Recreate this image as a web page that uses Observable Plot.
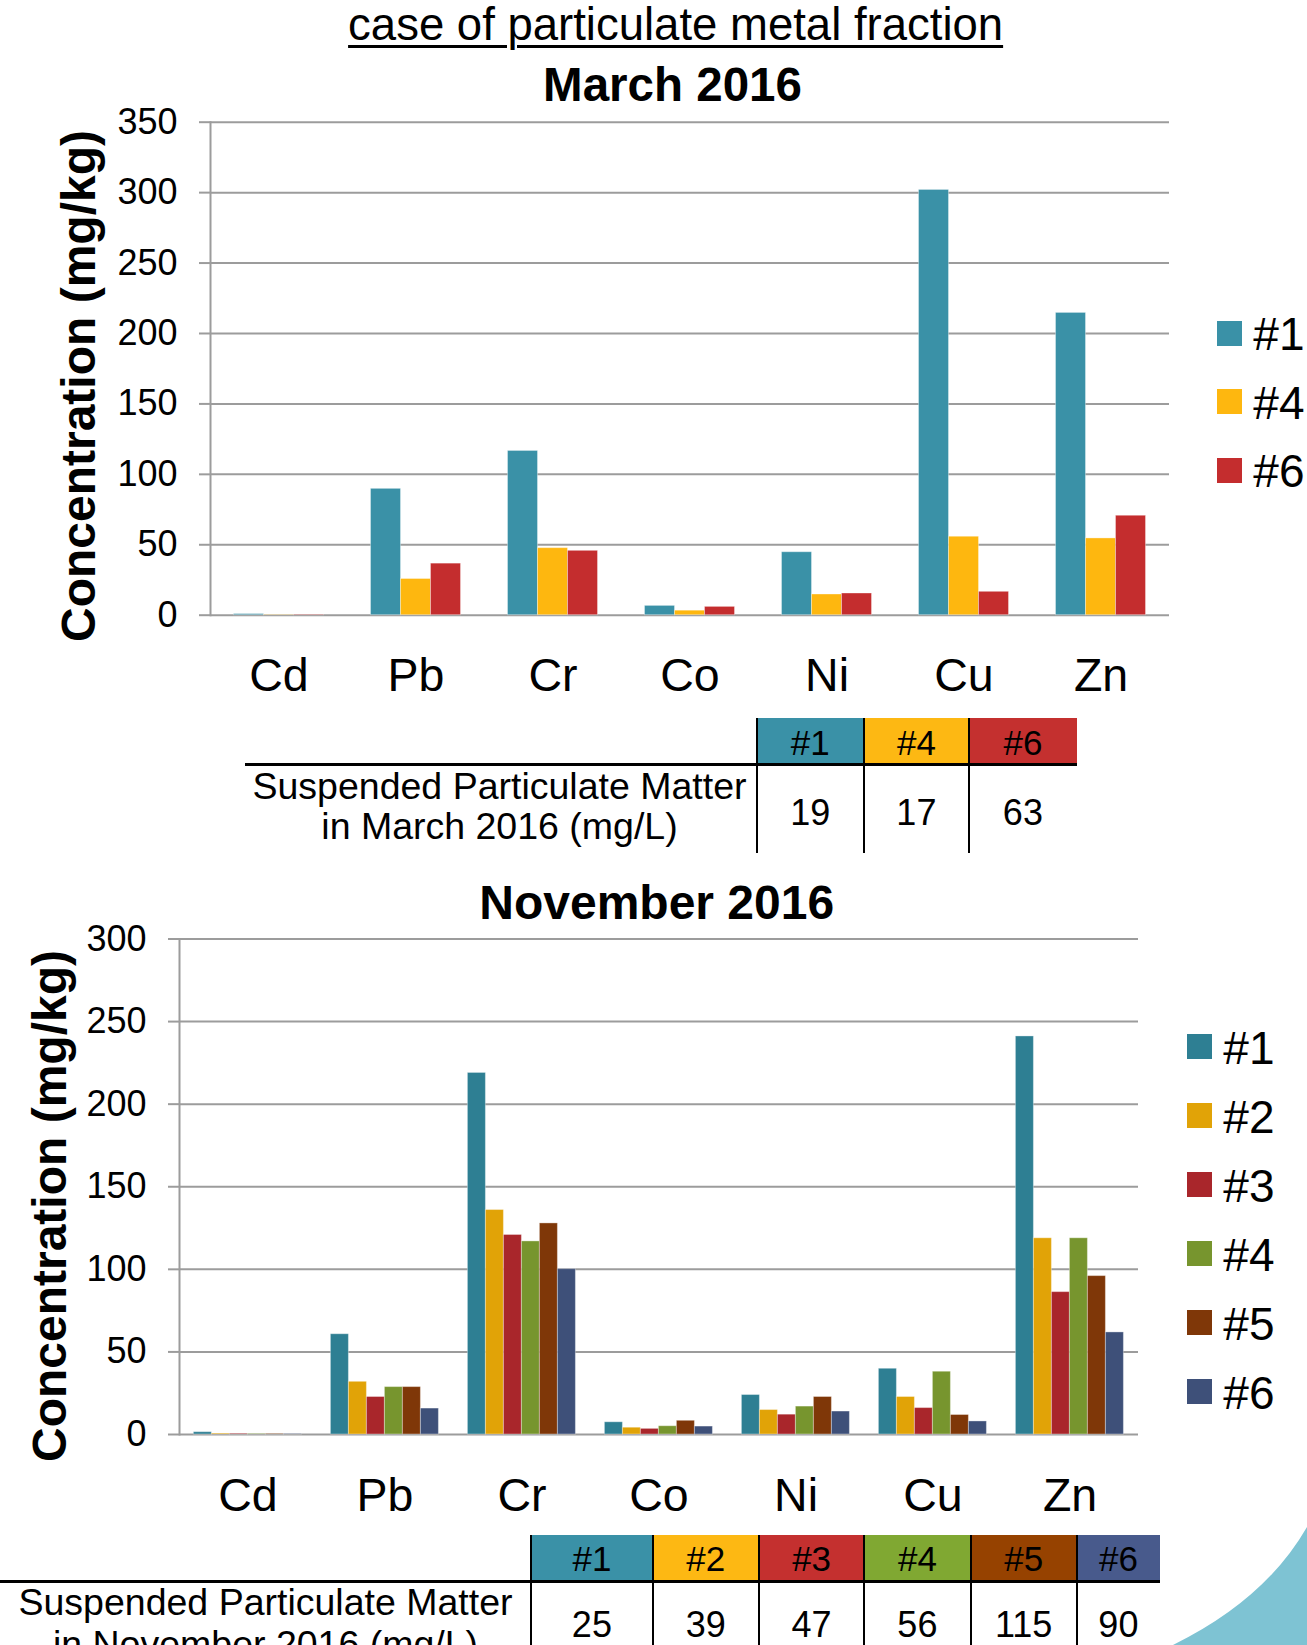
<!DOCTYPE html>
<html>
<head>
<meta charset="utf-8">
<script src="https://cdn.jsdelivr.net/npm/d3@7"></script>
<script src="https://cdn.jsdelivr.net/npm/@observablehq/plot@0.6"></script>
<style>
  body { margin: 0; background: #fff; }
  #page { position: relative; width: 1307px; height: 1645px; overflow: hidden;
          font-family: "Liberation Sans", Arial, sans-serif; color: #000; background: #fff; }
  .abs { position: absolute; white-space: nowrap; }
  #page svg { position: absolute; left: 0; overflow: visible; }
</style>
</head>
<body>
<div id="page"></div>
<script>
// ---- data -------------------------------------------------------------
const metals = ["Cd", "Pb", "Cr", "Co", "Ni", "Cu", "Zn"];

// March 2016: particulate metal concentration (mg/kg) per sampling site
const marchSites = ["#1", "#4", "#6"];
const marchSite1 = [0.8, 89.7, 116.6, 6.6, 44.7, 301.9, 214.6];
const marchSite4 = [0.2, 25.7, 47.6, 3.2, 14.7, 55.7, 54.5];
const marchSite6 = [0.3, 36.6, 45.7, 5.9, 15.4, 16.6, 70.6];
const marchTicks = [0, 50, 100, 150, 200, 250, 300, 350];
const marchSpm = [19, 17, 63];

// November 2016
const novSites = ["#1", "#2", "#3", "#4", "#5", "#6"];
const novSite1 = [1.4, 60.7, 218.9, 7.4, 23.9, 39.8, 241.0];
const novSite2 = [0.5, 31.9, 135.9, 4.1, 14.8, 22.7, 118.8];
const novSite3 = [0.4, 22.7, 120.8, 3.4, 12.0, 16.0, 86.2];
const novSite4 = [0.3, 28.7, 116.9, 5.0, 16.9, 38.0, 118.8];
const novSite5 = [0.3, 28.7, 127.8, 8.3, 22.7, 11.8, 95.9];
const novSite6 = [0.2, 15.7, 100.1, 4.8, 13.9, 7.9, 61.8];
const novTicks = [0, 50, 100, 150, 200, 250, 300];
const novSpm = [25, 39, 47, 56, 115, 90];

// ---- colours ----------------------------------------------------------
const marchBarColors = ["#3A91A7", "#FEB70F", "#C42D2E"];
const novBarColors = ["#2E7F93", "#E1A307", "#A9262B", "#77952E", "#7F3708", "#3E5079"];
const marchHeadColors = ["#3A91A7", "#FDB813", "#C4302F"];
const novHeadColors = ["#3A91A7", "#FDB813", "#C4302F", "#80A832", "#964200", "#485A8C"];
const gridColor = "#9c9c9c";
const FONT = '"Liberation Sans", Arial, sans-serif';

const page = document.getElementById("page");

// absolutely placed text, positioned by its baseline
function text(str, {x, baseline, size, weight = "normal", anchor = "middle", style = {}}) {
  const d = document.createElement("div");
  d.className = "abs";
  d.textContent = str;
  Object.assign(d.style, {
    left: x + "px", top: (baseline - 0.8465 * size) + "px",
    fontSize: size + "px", lineHeight: size + "px", fontWeight: weight,
    transform: anchor === "middle" ? "translateX(-50%)" : anchor === "end" ? "translateX(-100%)" : "none"
  }, style);
  page.appendChild(d);
  return d;
}

function box(left, top, width, height, bg) {
  const d = document.createElement("div");
  d.className = "abs";
  Object.assign(d.style, {left: left + "px", top: top + "px", width: width + "px", height: height + "px", background: bg});
  page.appendChild(d);
  return d;
}

function rotatedTitle(str, cx, cy, size) {
  const d = document.createElement("div");
  d.className = "abs";
  d.textContent = str;
  Object.assign(d.style, {
    left: cx + "px", top: cy + "px", fontSize: size + "px", lineHeight: size + "px",
    fontWeight: "bold", transform: "translate(-50%, -50%) rotate(-90deg)"
  });
  page.appendChild(d);
}

// grouped bar chart: one facet per metal, one bar per site
function groupedChart({sites, series, ticks, colors, top, height, marginLeft, marginRight, marginTop, marginBottom, padOuter}) {
  const rows = sites.flatMap((s, i) => metals.map((m, j) => ({metal: m, site: s, value: series[i][j]})));
  const chart = Plot.plot({
    width: 1307, height, marginLeft, marginRight, marginTop, marginBottom,
    style: {fontFamily: FONT, color: "#000", background: "transparent", overflow: "visible"},
    fx: {domain: metals, padding: 0, label: null},
    x: {domain: sites, axis: null, paddingInner: 0, paddingOuter: padOuter},
    y: {domain: [ticks[0], ticks[ticks.length - 1]], label: null},
    color: {domain: sites, range: colors},
    marks: [
      Plot.gridY(ticks, {stroke: gridColor, strokeOpacity: 1, strokeWidth: 2}),
      Plot.frame({anchor: "left", facetAnchor: "left", stroke: gridColor, strokeWidth: 2}),
      Plot.barY(rows, {fx: "metal", x: "site", y: "value", fill: "site",
                       stroke: "#ffffff", strokeOpacity: 0.35, strokeWidth: 1}),
      Plot.axisY(ticks, {tickSize: 11, tickPadding: 22, fontSize: 36, stroke: gridColor,
                         strokeWidth: 2, fill: "#000", label: null}),
      Plot.axisFx({anchor: "bottom", tickSize: 0, tickPadding: 43, fontSize: 46.5, fill: "#000", label: null})
    ]
  });
  chart.style.top = top + "px";
  page.appendChild(chart);
  return chart;
}

function legend(chart, {left, firstCenter, step}) {
  const {domain, range} = chart.scale("color");
  domain.forEach((name, i) => {
    const cy = firstCenter + i * step;
    box(left, cy - 12.5, 25, 25, range[i]);
    text(name, {x: left + 36, baseline: cy + 16.8, size: 46, anchor: "start"});
  });
}

function spmTable({sites, values, colors, lineLeft, cols, headTop, headBottom, bodyBottom,
                   labelLines, labelX, labelBaselines, headBaseline, valueBaseline}) {
  sites.forEach((s, i) => {
    const l = cols[i], w = cols[i + 1] - cols[i];
    box(l, headTop, w, headBottom - headTop, colors[i]);
    text(s, {x: l + w / 2, baseline: headBaseline, size: 35});
    text(String(values[i]), {x: l + w / 2, baseline: valueBaseline, size: 36});
  });
  box(lineLeft, headBottom - 1.5, cols[cols.length - 1] - lineLeft, 3, "#000");
  sites.forEach((s, i) => box(cols[i] - 1, headTop, 2, bodyBottom - headTop, "#000"));
  labelLines.forEach((ln, k) => text(ln, {x: labelX, baseline: labelBaselines[k], size: 37.5}));
}

// ---- headings -----------------------------------------------------------
text("case of particulate metal fraction", {x: 675.6, baseline: 41, size: 45.5,
  style: {textDecoration: "underline", textDecorationThickness: "3px", textUnderlineOffset: "5px"}});
text("March 2016", {x: 672.5, baseline: 101.7, size: 47.5, weight: "bold"});
text("November 2016", {x: 656.7, baseline: 919.3, size: 48, weight: "bold"});

// ---- March chart ----------------------------------------------------------
const march = groupedChart({
  sites: marchSites, series: [marchSite1, marchSite4, marchSite6], ticks: marchTicks,
  colors: marchBarColors, top: 100, height: 620,
  marginLeft: 208.5, marginRight: 136.7, marginTop: 21.7, marginBottom: 105.3, padOuter: 0.773
});
rotatedTitle("Concentration (mg/kg)", 79, 385.8, 48);
legend(march, {left: 1217.3, firstCenter: 333.2, step: 68.65});

spmTable({
  sites: marchSites, values: marchSpm, colors: marchHeadColors,
  lineLeft: 244.8, cols: [756.8, 863.6, 969.2, 1076.6],
  headTop: 717.7, headBottom: 764, bodyBottom: 853,
  labelLines: ["Suspended Particulate Matter", "in March 2016 (mg/L)"],
  labelX: 499.5, labelBaselines: [799.5, 840], headBaseline: 755, valueBaseline: 825
});

// ---- November chart -------------------------------------------------------
const nov = groupedChart({
  sites: novSites, series: [novSite1, novSite2, novSite3, novSite4, novSite5, novSite6], ticks: novTicks,
  colors: novBarColors, top: 900, height: 640,
  marginLeft: 178.6, marginRight: 167.7, marginTop: 38.5, marginBottom: 106, padOuter: 0.765
});
rotatedTitle("Concentration (mg/kg)", 49.5, 1206, 48);
legend(nov, {left: 1187.3, firstCenter: 1046.8, step: 69});

spmTable({
  sites: novSites, values: novSpm, colors: novHeadColors,
  lineLeft: 0, cols: [531.2, 652.6, 758.9, 864.3, 970.5, 1076.8, 1160],
  headTop: 1535, headBottom: 1581, bodyBottom: 1700,
  labelLines: ["Suspended Particulate Matter", "in November 2016 (mg/L)"],
  labelX: 265.5, labelBaselines: [1615.5, 1658], headBaseline: 1570.5, valueBaseline: 1637.5
});

// corner decoration
const deco = d3.create("svg").attr("width", 1307).attr("height", 1645)
  .style("top", "0px").style("pointer-events", "none");
deco.append("path").attr("d", "M1173,1645 Q1265,1600 1307,1527 L1307,1645 Z").attr("fill", "#7EC3D3");
page.appendChild(deco.node());
</script>
</body>
</html>
